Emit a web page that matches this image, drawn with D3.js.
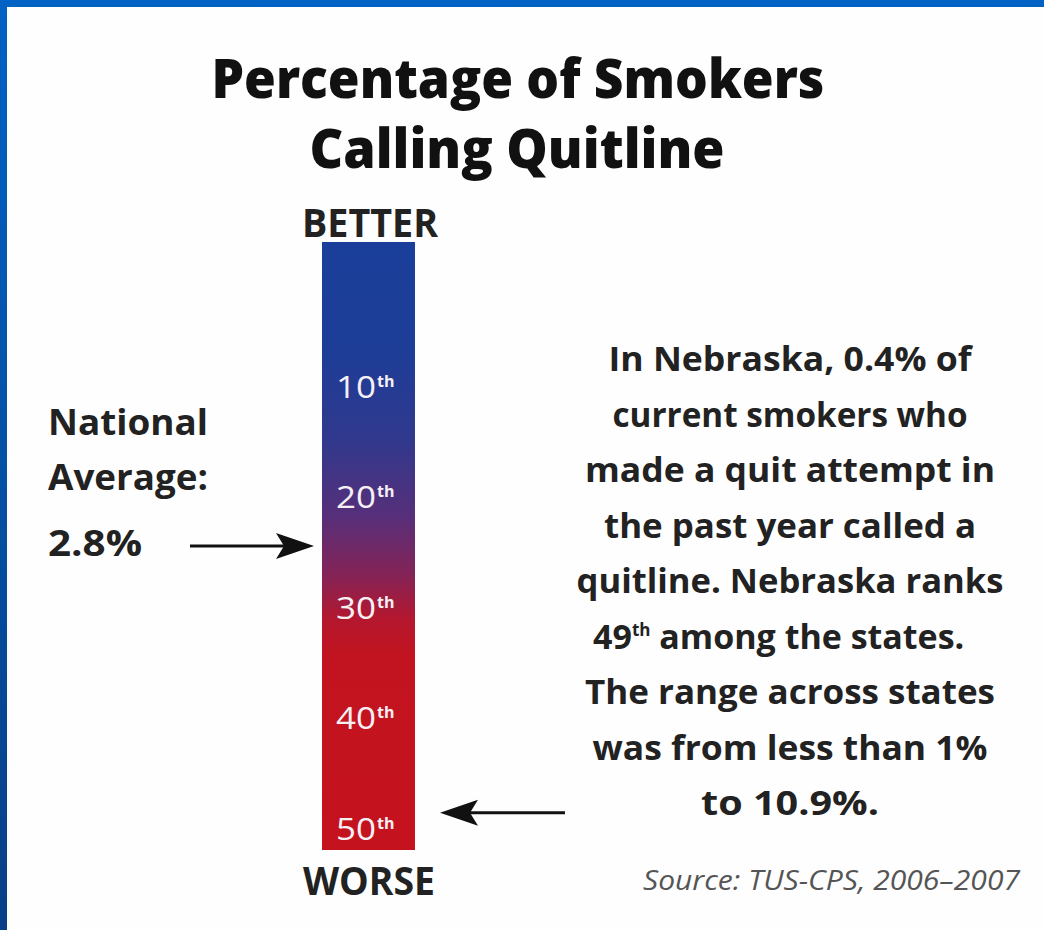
<!DOCTYPE html>
<html><head><meta charset="utf-8">
<script src="https://cdn.jsdelivr.net/npm/d3@7"></script>
<style>html,body{margin:0;padding:0;background:#fff;}svg{display:block;}</style>
</head><body>
<svg id="c" width="1044" height="930"></svg>
<script>
const titleLines = ["Percentage of Smokers", "Calling Quitline"];
const tickRanks = [10, 20, 30, 40, 50];
const rankDomain = [-3, 52];
const nationalAverageRank = 24.5;
const nationalAverageLines = ["National", "Average:", "2.8%"];
const nebraskaRank = 49;
const noteLines = ["In Nebraska, 0.4% of", "current smokers who", "made a quit attempt in", "the past year called a", "quitline. Nebraska ranks", "49|th| among the states.", "The range across states", "was from less than 1%", "to 10.9%."];
const sourceText = "Source: TUS-CPS, 2006–2007";
const topLabel = "BETTER", bottomLabel = "WORSE";

const svg = d3.select("#c");
const F = "'Open Sans', 'Noto Sans', sans-serif";

// frame
const defs = svg.append("defs");
const fg = defs.append("linearGradient").attr("id","frame").attr("x1",0).attr("y1",0).attr("x2",0).attr("y2",1);
fg.append("stop").attr("offset",0).attr("stop-color","#0062c4");
fg.append("stop").attr("offset",1).attr("stop-color","#083f86");
svg.append("rect").attr("width",1044).attr("height",930).attr("fill","url(#frame)");
svg.append("rect").attr("x",7).attr("y",7).attr("width",1037).attr("height",923).attr("fill","#fefefe");

// title
const tl = [{w:613,x:518,y:98},{w:415,x:517,y:168}];
svg.selectAll(".title").data(titleLines).join("text")
  .attr("x",(d,i)=>tl[i].x).attr("y",(d,i)=>tl[i].y)
  .attr("text-anchor","middle").attr("font-family",F).attr("font-weight",800)
  .attr("font-size",54).attr("fill","#111")
  .attr("textLength",(d,i)=>tl[i].w).attr("lengthAdjust","spacingAndGlyphs")
  .text(d=>d);

// scale
const y = d3.scaleLinear().domain(rankDomain).range([242, 850]);
const barX = 322, barW = 93;

const g = defs.append("linearGradient").attr("id","bar").attr("x1",0).attr("y1",0).attr("x2",0).attr("y2",1);
[[0,"#1a3f9a"],[0.18,"#1d3d97"],[0.32,"#30398e"],[0.45,"#562f7a"],[0.55,"#862356"],[0.62,"#b4172e"],[0.68,"#c21420"],[1,"#c4121e"]]
  .forEach(s=>g.append("stop").attr("offset",s[0]).attr("stop-color",s[1]));
svg.append("rect").attr("x",barX).attr("y",y(rankDomain[0])).attr("width",barW)
  .attr("height",y(rankDomain[1])-y(rankDomain[0])).attr("fill","url(#bar)");

// tick labels
const tk = svg.selectAll(".tk").data(tickRanks).join("text")
  .attr("x",336).attr("y",d=>y(d)+12).attr("font-family",F).attr("font-size",31)
  .attr("fill","#f6eff4").attr("font-weight",400);
tk.append("tspan").attr("textLength",40).attr("lengthAdjust","spacingAndGlyphs").text(d=>d);
tk.append("tspan").attr("dx",1).attr("dy",-11).attr("font-size",16).attr("font-weight",700).text("th");

// BETTER / WORSE
svg.append("text").attr("x",370).attr("y",237).attr("text-anchor","middle").attr("font-family",F)
  .attr("font-weight",700).attr("font-size",40).attr("fill","#222").attr("textLength",136)
  .attr("lengthAdjust","spacingAndGlyphs").text(topLabel);
svg.append("text").attr("x",369).attr("y",895).attr("text-anchor","middle").attr("font-family",F)
  .attr("font-weight",700).attr("font-size",40).attr("fill","#222").attr("textLength",132)
  .attr("lengthAdjust","spacingAndGlyphs").text(bottomLabel);

// national average
const naW = [160,160,94], naY = [435,490,556];
svg.selectAll(".na").data(nationalAverageLines).join("text")
  .attr("x",48).attr("y",(d,i)=>naY[i]).attr("font-family",F).attr("font-weight",700)
  .attr("font-size",36).attr("fill","#222").attr("textLength",(d,i)=>naW[i])
  .attr("lengthAdjust","spacingAndGlyphs").text(d=>d);

function arrow(x1, x2, yy){
  const dir = Math.sign(x2-x1);
  svg.append("line").attr("x1",x1).attr("x2",x2-dir*30).attr("y1",yy).attr("y2",yy)
    .attr("stroke","#111").attr("stroke-width",3);
  const tip = x2, back = x2-dir*38, notch = x2-dir*30;
  svg.append("path").attr("d",`M${tip},${yy} L${back},${yy-13} L${notch},${yy} L${back},${yy+13} Z`)
    .attr("fill","#111");
}
arrow(190, 314, y(nationalAverageRank));
arrow(565, 440, y(nebraskaRank)-4);

// note text
const noteW = [363,355,410,372,427,395,410,395,178];
const noteT = svg.selectAll(".note").data(noteLines).join("text")
  .attr("x",790).attr("y",(d,i)=>371+i*55.5).attr("text-anchor","middle")
  .attr("font-family",F).attr("font-weight",700).attr("font-size",34).attr("fill","#222");
noteT.each(function(d,i){
  const t = d3.select(this);
  if(d.includes("|")){
    const p = d.split("|");
    t.attr("x",593).attr("text-anchor","start");
    t.append("tspan").text(p[0]);
    t.append("tspan").attr("dy",-13).attr("font-size",17).text(p[1]);
    t.append("tspan").attr("dy",13).text(p[2]);
  } else {
    t.attr("textLength",noteW[i]).attr("lengthAdjust","spacingAndGlyphs").text(d);
  }
});

// source
svg.append("text").attr("x",643).attr("y",890).attr("font-family",F).attr("font-style","italic")
  .attr("font-size",28).attr("fill","#555").attr("textLength",377)
  .attr("lengthAdjust","spacingAndGlyphs").text(sourceText);
</script>
</body></html>
